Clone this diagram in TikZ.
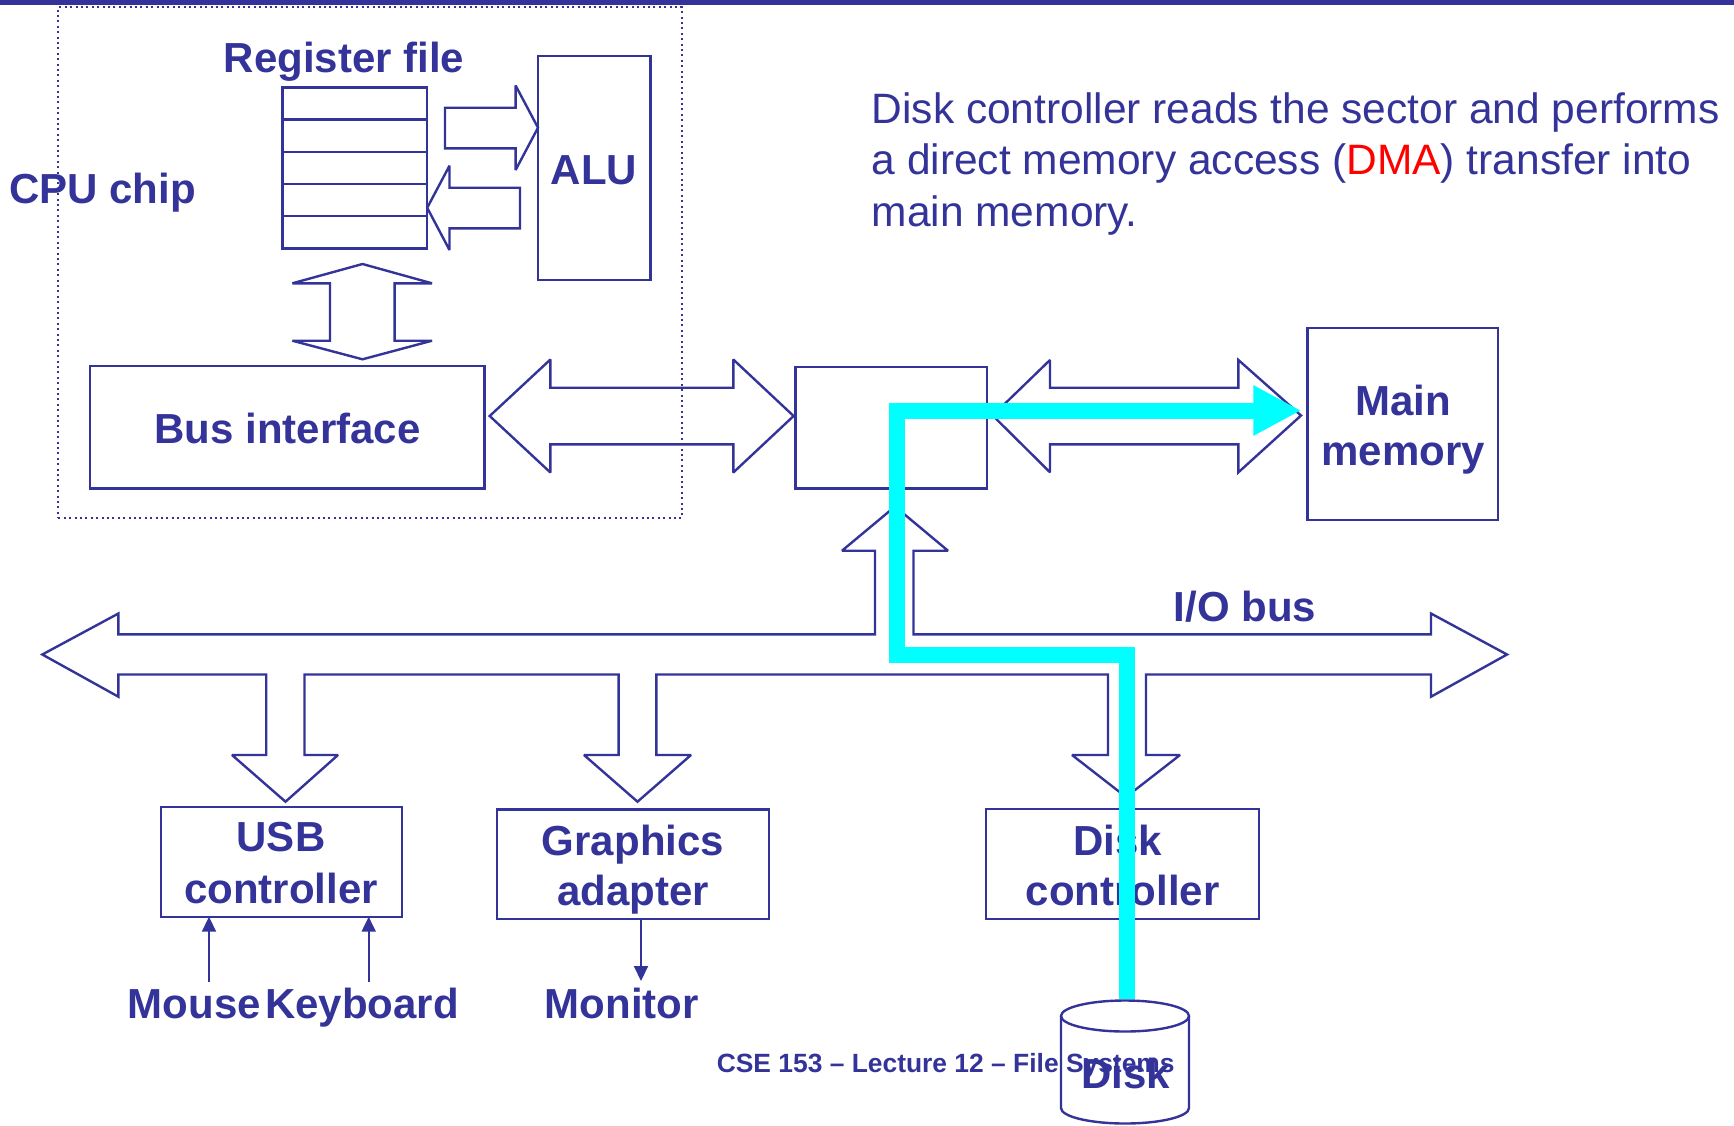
\documentclass[tikz,border=0pt]{standalone}
\usepackage{fontspec}
\setmainfont{Liberation Sans}
\usetikzlibrary{arrows.meta,calc}
\definecolor{navy}{RGB}{51,51,153}
\definecolor{dmacyan}{RGB}{0,255,255}
\definecolor{dmared}{RGB}{255,0,0}
\begin{document}
\begin{tikzpicture}[x=1pt,y=-1pt,
  box/.style={draw=navy, line width=2.4pt, rectangle, inner sep=0pt, outer sep=0pt},
  blk/.style={draw=navy, line width=2.4pt, line join=miter, miter limit=2.5},
  lbl/.style={text=navy, font=\fontsize{42}{50}\selectfont\bfseries, inner sep=0pt, anchor=base},
  txt/.style={text=navy, font=\fontsize{42.5}{50}\selectfont, inner sep=0pt, anchor=base west},
  thinarrow/.style={draw=navy, line width=2pt, -{Triangle[length=15pt,width=14pt]}},
  dmapath/.style={draw=dmacyan, line width=16pt, line join=miter, -{Triangle[length=48pt,width=47pt]}},
  dotbox/.style={draw=navy, line width=2pt, dash pattern=on 2pt off 3.4pt, rectangle, inner sep=0pt, outer sep=0pt}
]
\useasboundingbox (0,0) rectangle (1734,1125);
\fill[navy] (0,0) rectangle (1734,4.5);

% CPU chip region
\node[dotbox, minimum width=623.7pt, minimum height=510.7pt] (cpu) at (370.15,262.65) {};
\node[lbl, anchor=base west] (cputxt) at (9,203) {CPU chip};
\node[lbl] (regtxt) at (344,72) {Register file};

% register file
\node[box, minimum width=144.6pt, minimum height=161pt] (reg) at (354.9,167.8) {};
\foreach \k in {1,...,4}
  \draw[blk] ($(reg.north west)!\k/5!(reg.south west)$) -- ($(reg.north east)!\k/5!(reg.south east)$);

% ALU
\node[box, minimum width=112.4pt, minimum height=224.3pt] (alu) at (594.2,167.85) {};
\node[lbl] (alutxt) at (594,184) {ALU};

% reg -> ALU and ALU -> reg block arrows
\draw[blk] (445,107.7) -- (515.6,107.7) -- (515.6,85.5) -- (538,127.7) -- (515.6,170) -- (515.6,148.3) -- (445,148.3) -- cycle;
\draw[blk] (520,187.7) -- (449.5,187.7) -- (449.5,165.7) -- (427.2,207.8) -- (449.5,250) -- (449.5,228.3) -- (520,228.3) -- cycle;

% reg <-> bus interface
\draw[blk] (362.5,264) -- (432,283.3) -- (394.6,283.3) -- (394.6,340.7) -- (432,340.7) -- (362.5,359.3) -- (292.4,340.7) -- (330,340.7) -- (330,283.3) -- (292.4,283.3) -- cycle;

% bus interface
\node[box, minimum width=394.1pt, minimum height=122.3pt] (bus) at (287.25,427.15) {};
\node[lbl] (bustxt) at (287.5,443) {Bus interface};

% bus interface <-> bridge
\draw[blk] (489.7,416) -- (550.4,359.5) -- (550.4,387.7) -- (733.3,387.7) -- (733.3,359.5) -- (793.6,416) -- (733.3,472.5) -- (733.3,444.3) -- (550.4,444.3) -- (550.4,472.5) -- cycle;

% I/O bridge
\node[box, minimum width=191.7pt, minimum height=121.6pt] (bridge) at (891.15,427.5) {};

% bridge <-> main memory
\draw[blk] (992.7,415.5) -- (1050,360) -- (1050,387.7) -- (1238.4,387.7) -- (1238.4,360) -- (1301,415.5) -- (1238.4,472.3) -- (1238.4,444.3) -- (1050,444.3) -- (1050,472.3) -- cycle;

% main memory
\node[box, minimum width=190.6pt, minimum height=192.3pt] (mem) at (1402.6,423.85) {};
\node[lbl] (memA) at (1403,415) {Main};
\node[lbl] (memB) at (1403,465) {memory};

% I/O bus
\draw[blk] (42.3,654.5) -- (118.4,613.5) -- (118.4,634.3) -- (875,634.3) -- (875,550.7) -- (842,550.7) -- (895,506.5) -- (948,550.7) -- (913.5,550.7) -- (913.5,634.3) -- (1431,634.3) -- (1431,613.5) -- (1507,654.5) -- (1431,696.7) -- (1431,674.5) -- (1146,674.5) -- (1146,755) -- (1180,755) -- (1126,797) -- (1072,755) -- (1108,755) -- (1108,674.5) -- (656.4,674.5) -- (656.4,755) -- (691,755) -- (637.5,801.7) -- (584,755) -- (618.6,755) -- (618.6,674.5) -- (304.5,674.5) -- (304.5,755) -- (338,755) -- (285.5,801.7) -- (232,755) -- (266.2,755) -- (266.2,674.5) -- (118.4,674.5) -- (118.4,696.7) -- cycle;
\node[lbl, anchor=base west] (iotxt) at (1173.5,621.7) {I/O bus};

% controllers
\node[box, minimum width=241pt, minimum height=110pt] (usb) at (281.5,861.7) {};
\node[lbl] (usbA) at (281,851.7) {USB};
\node[lbl] (usbB) at (281,903.3) {controller};
\node[box, minimum width=272pt, minimum height=109.7pt] (gfx) at (633,864.15) {};
\node[lbl] (gfxA) at (633,855) {Graphics};
\node[lbl] (gfxB) at (633,905) {adapter};
\node[box, minimum width=273pt, minimum height=110pt] (dc) at (1122.5,864) {};
\node[lbl] (dcA) at (1117.5,855) {Disk};
\node[lbl] (dcB) at (1122.5,905) {controller};

% devices
\node[lbl, anchor=base west] (mousetxt) at (127.5,1018) {Mouse};
\node[lbl, anchor=base west] (kbdtxt) at (265,1018) {Keyboard};
\node[lbl, anchor=base west] (montxt) at (544.5,1018) {Monitor};
\coordinate (mouseS) at (209,981.7);
\coordinate (kbdS) at (368.7,981.7);
\coordinate (monN) at (641,981);
\draw[thinarrow] (mouseS) -- (mouseS |- usb.south);
\draw[thinarrow] (kbdS) -- (kbdS |- usb.south);
\draw[thinarrow] (monN |- gfx.south) -- (monN);

% disk cylinder
\node[inner sep=0pt, minimum width=128pt, minimum height=123pt] (disk) at (1125,1062) {};
\draw[blk] (1125,1016) ellipse [x radius=64pt, y radius=15.5pt];
\draw[blk] (1061,1016) -- (1061,1108) arc[start angle=180, end angle=360, x radius=64pt, y radius=15.5pt] -- (1189,1016);
\node[lbl] (disktxt) at (1125.5,1088) {Disk};

% footer
\node[text=navy, font=\fontsize{26.4}{30}\selectfont\bfseries, inner sep=0pt, anchor=base west] (foot) at (716.6,1072.5) {CSE 153 – Lecture 12 – File Systems};

% explanation text
\node[txt] (lineA) at (871.5,123) {Disk controller reads the sector and performs};
\node[txt] (lineB) at (871.5,174) {a direct memory access (\textcolor{dmared}{DMA}) transfer into};
\node[txt] (lineC) at (871.5,226) {main memory.};

% DMA path
\coordinate (dmaStart) at (1127,999);
\coordinate (dmaC1) at (1127,655);
\coordinate (dmaC2) at (896.5,655);
\coordinate (dmaC3) at (896.5,410.5);
\coordinate (dmaEnd) at ($(mem.west |- dmaC3)+(-6,0)$);
\draw[dmapath] (dmaStart) -- (dmaC1) -- (dmaC2) -- (dmaC3) -- (dmaEnd);
\end{tikzpicture}
\end{document}
